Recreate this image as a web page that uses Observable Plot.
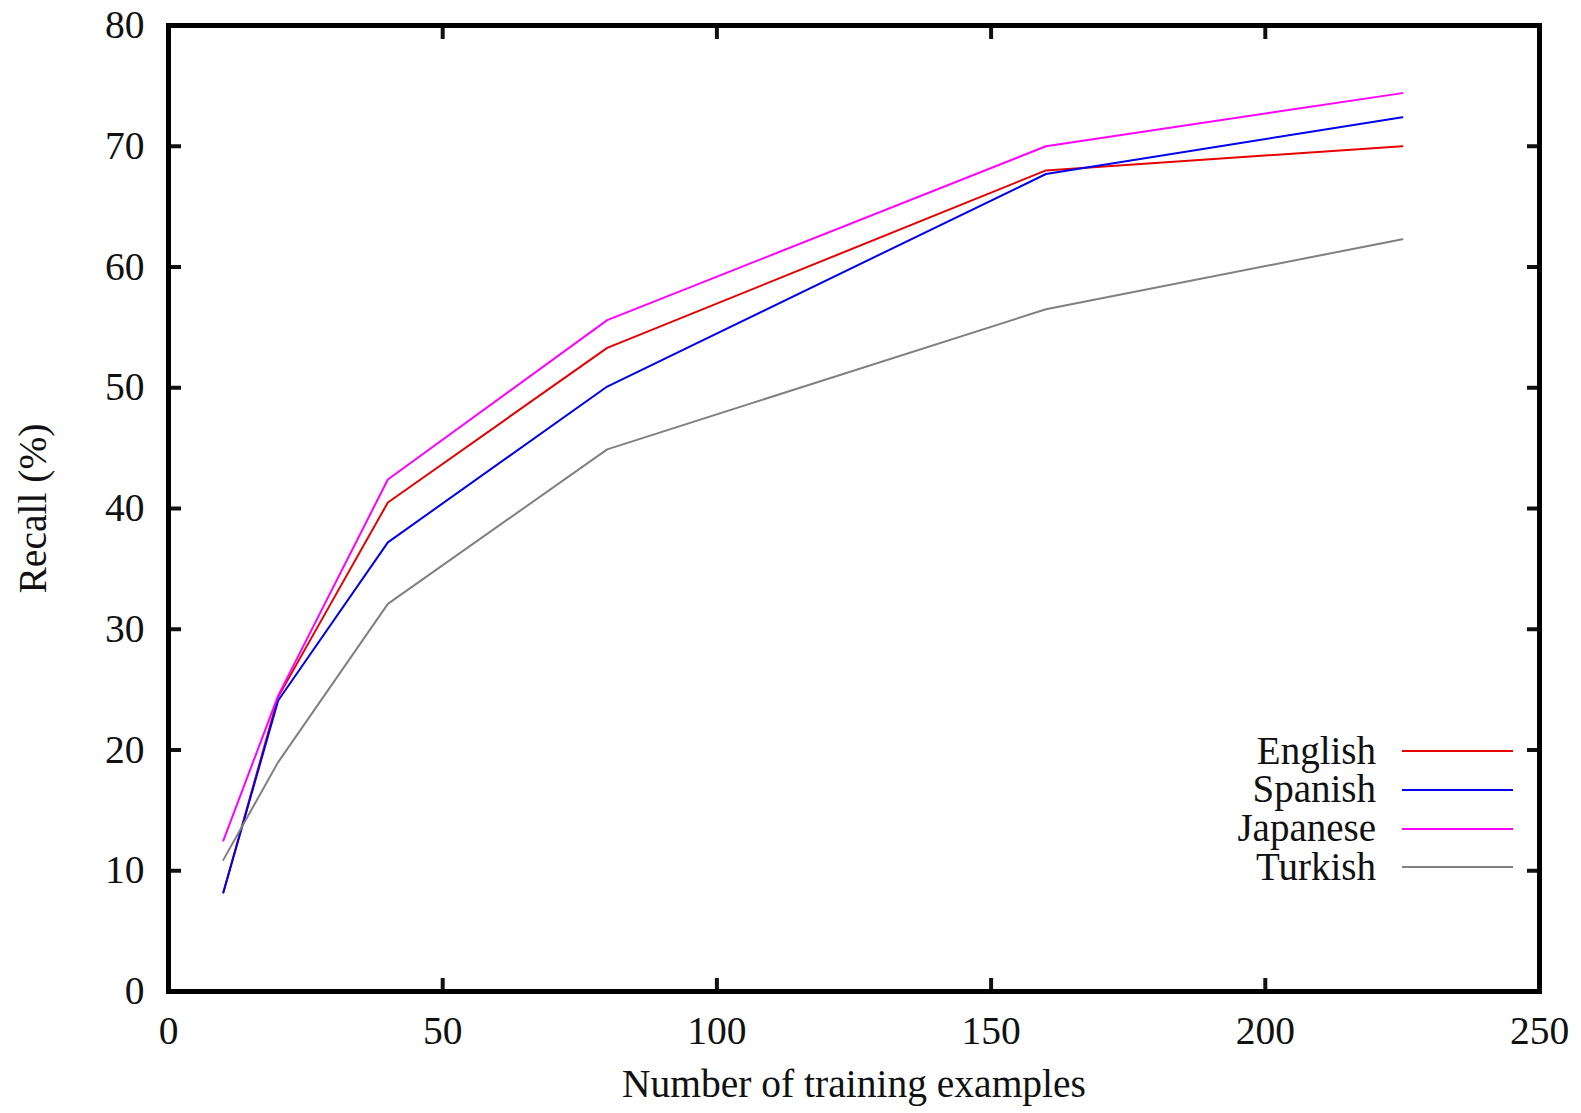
<!DOCTYPE html>
<html>
<head>
<meta charset="utf-8">
<script src="https://cdn.jsdelivr.net/npm/d3@7"></script>
<script src="https://cdn.jsdelivr.net/npm/@observablehq/plot@0.6"></script>
<style>
  html, body { margin: 0; padding: 0; background: #fff; }
  #wrap { position: relative; width: 1581px; height: 1113px; font-family: "Liberation Serif", "DejaVu Serif", serif; }
  #legend { position: absolute; right: 68px; top: 732px; font-size: 39px; color: #111; }
  .row { display: flex; justify-content: flex-end; align-items: center; height: 38.7px; }
  .row span { line-height: 0.9; position: relative; top: -1px; }
  .row svg { display: block; }
</style>
</head>
<body>
<div id="wrap"></div>
<script>
// ---- data ----
const trainingSizes = [10, 20, 40, 80, 160, 225];
const seriesNames = ["English", "Spanish", "Japanese", "Turkish"];
const english  = [8.2, 24.4, 40.5, 53.3, 68.0, 70.0];
const spanish  = [8.2, 24.1, 37.2, 50.1, 67.7, 72.4];
const japanese = [12.5, 24.5, 42.4, 55.6, 70.0, 74.4];
const turkish  = [10.9, 19.0, 32.1, 44.9, 56.5, 62.3];
const seriesColors = ["#e60000", "#0000ee", "#ff00ff", "#808080"];
const xTicks = [0, 50, 100, 150, 200, 250];
const yTicks = [0, 10, 20, 30, 40, 50, 60, 70, 80];
const xLabel = "Number of training examples";
const yLabel = "Recall (%)";

const seriesValues = [english, spanish, japanese, turkish];
const rows = [];
seriesNames.forEach((name, i) => {
  trainingSizes.forEach((x, j) => rows.push({series: name, x, y: seriesValues[i][j]}));
});

const font = '"Liberation Serif", "DejaVu Serif", serif';
const fs = 39.5;

const chart = Plot.plot({
  width: 1581,
  height: 1113,
  marginLeft: 168,
  marginRight: 42,
  marginTop: 25,
  marginBottom: 122,
  style: {fontFamily: font, fontSize: fs + "px", background: "white", color: "#111"},
  x: {domain: [0, 250]},
  y: {domain: [0, 80]},
  color: {domain: seriesNames, range: seriesColors},
  marks: [
    Plot.line(rows, {x: "x", y: "y", z: "series", stroke: "series", strokeWidth: 2}),
    Plot.axisY({anchor: "left", ticks: yTicks, tickSize: -13, tickPadding: 37, strokeWidth: 4, label: null, fontSize: fs}),
    Plot.axisY({anchor: "right", ticks: yTicks, tickSize: -13, strokeWidth: 4, fill: "none", label: null}),
    Plot.axisX({anchor: "bottom", ticks: xTicks, tickSize: -13, tickPadding: 37, strokeWidth: 4, label: null, fontSize: fs}),
    Plot.axisX({anchor: "top", ticks: xTicks, tickSize: -13, strokeWidth: 4, fill: "none", label: null}),
    Plot.frame({stroke: "#000", strokeWidth: 5}),
    Plot.text([xLabel], {text: d => d, frameAnchor: "bottom", dy: 93, lineAnchor: "middle", textAnchor: "middle", fontSize: fs}),
    Plot.text([yLabel], {text: d => d, frameAnchor: "left", dx: -135, rotate: -90, lineAnchor: "middle", textAnchor: "middle", fontSize: fs})
  ]
});

const wrap = document.getElementById("wrap");
wrap.appendChild(chart);

// legend
const legend = document.createElement("div");
legend.id = "legend";
seriesNames.forEach((name, i) => {
  const row = document.createElement("div");
  row.className = "row";
  const span = document.createElement("span");
  span.textContent = name;
  row.appendChild(span);
  const svg = d3.create("svg").attr("width", 137).attr("height", 10);
  svg.append("line").attr("x1", 26).attr("x2", 137).attr("y1", 5).attr("y2", 5)
    .attr("stroke", seriesColors[i]).attr("stroke-width", 2);
  row.appendChild(svg.node());
  legend.appendChild(row);
});
wrap.appendChild(legend);
</script>
</body>
</html>
